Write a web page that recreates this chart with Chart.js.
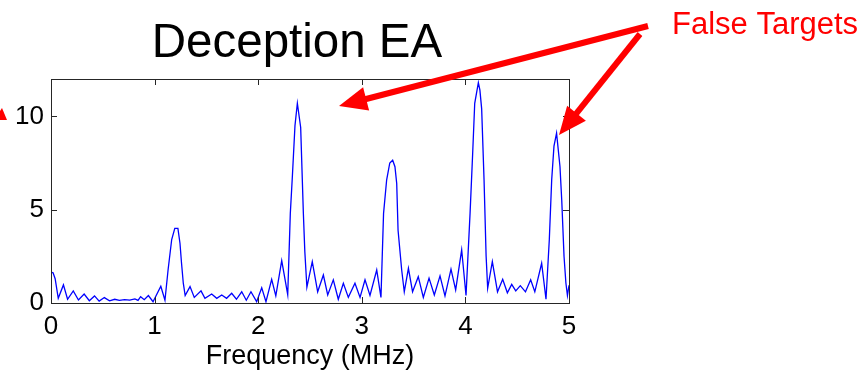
<!DOCTYPE html>
<html>
<head>
<meta charset="utf-8">
<script src="https://cdn.jsdelivr.net/npm/chart.js@4.4.1/dist/chart.umd.min.js"></script>
<style>
  html, body { margin: 0; padding: 0; background: #ffffff; }
  #wrap { width: 867px; height: 376px; position: relative; }
</style>
</head>
<body>
<div id="wrap"><canvas id="c" width="867" height="376"></canvas></div>
<script>
// ---- data ----
const titleText = "Deception EA";
const xAxisLabel = "Frequency (MHz)";
const annotationText = "False Targets";
const xTickValues = [0, 1, 2, 3, 4, 5];
const yTickValues = [0, 5, 10];

const freqMHz = [
  0.00, 0.02, 0.04, 0.07, 0.12, 0.16, 0.215, 0.265, 0.32, 0.37,
  0.42, 0.465, 0.515, 0.565, 0.615, 0.66, 0.71, 0.76, 0.81, 0.84,
  0.865, 0.90, 0.94, 0.985, 1.06, 1.10, 1.13, 1.165, 1.195, 1.225,
  1.245, 1.26, 1.277, 1.295, 1.342, 1.383, 1.448, 1.486, 1.551, 1.60,
  1.648, 1.695, 1.744, 1.79, 1.841, 1.885, 1.93, 1.985, 2.034, 2.075,
  2.13, 2.17, 2.227, 2.285, 2.31, 2.33, 2.355, 2.378, 2.41, 2.436,
  2.45, 2.47, 2.522, 2.574, 2.629, 2.671, 2.725, 2.773, 2.822, 2.87,
  2.934, 2.983, 3.031, 3.079, 3.144, 3.185, 3.21, 3.24, 3.27, 3.298,
  3.32, 3.337, 3.35, 3.385, 3.41, 3.45, 3.49, 3.545, 3.594, 3.649,
  3.70, 3.755, 3.803, 3.861, 3.906, 3.964, 4.006, 4.045, 4.07, 4.09,
  4.125, 4.14, 4.157, 4.18, 4.20, 4.215, 4.26, 4.31, 4.36, 4.405,
  4.447, 4.486, 4.53, 4.58, 4.63, 4.67, 4.736, 4.778, 4.81, 4.833,
  4.855, 4.88, 4.913, 4.93, 4.952, 4.97, 4.985, 5.00
];
const magnitude = [
  1.65, 1.62, 1.30, 0.25, 0.97, 0.20, 0.65, 0.16, 0.48, 0.12,
  0.38, 0.10, 0.29, 0.12, 0.20, 0.14, 0.18, 0.15, 0.22, 0.14,
  0.34, 0.18, 0.40, 0.07, 0.90, 0.15, 1.77, 3.40, 4.00, 4.00,
  3.20, 2.13, 1.06, 0.40, 0.88, 0.30, 0.65, 0.25, 0.48, 0.25,
  0.43, 0.25, 0.52, 0.20, 0.60, 0.15, 0.60, 0.07, 0.82, 0.07,
  1.27, 0.38, 2.27, 0.45, 4.80, 6.80, 9.50, 10.70, 9.40, 4.80,
  2.76, 0.85, 2.22, 0.60, 1.50, 0.43, 1.24, 0.20, 1.06, 0.30,
  1.06, 0.30, 1.24, 0.40, 1.77, 0.30, 4.80, 6.60, 7.50, 7.65,
  7.30, 6.40, 3.90, 1.77, 0.60, 1.86, 0.60, 1.41, 0.30, 1.33,
  0.43, 1.45, 0.38, 1.81, 0.70, 2.85, 0.40, 4.80, 8.00, 10.70,
  11.80, 11.40, 10.40, 6.60, 2.50, 0.79, 2.22, 0.60, 1.27, 0.55,
  1.00, 0.65, 0.93, 0.60, 1.24, 0.60, 2.13, 0.20, 3.40, 6.60,
  8.40, 9.10, 7.30, 5.50, 2.50, 1.07, 0.40, 0.95
];

const FONT = "'Liberation Sans', Arial, Helvetica, sans-serif";

const matlabPlugin = {
  id: 'matlabLook',
  afterDatasetsDraw(chart) {
    const ctx = chart.ctx;
    const a = chart.chartArea;
    const xs = chart.scales.x, ys = chart.scales.y;
    ctx.save();
    ctx.strokeStyle = '#262626';
    ctx.lineWidth = 1;
    ctx.strokeRect(Math.round(a.left) + 0.5, Math.round(a.top) + 0.5,
                   Math.round(a.right - a.left), Math.round(a.bottom - a.top));
    const tl = 6;
    ctx.beginPath();
    xs.ticks.forEach(t => {
      const px = Math.round(xs.getPixelForValue(t.value)) + 0.5;
      ctx.moveTo(px, a.bottom); ctx.lineTo(px, a.bottom - tl);
      ctx.moveTo(px, a.top); ctx.lineTo(px, a.top + tl);
    });
    ys.ticks.forEach(t => {
      const py = Math.round(ys.getPixelForValue(t.value)) + 0.5;
      ctx.moveTo(a.left, py); ctx.lineTo(a.left + tl, py);
      ctx.moveTo(a.right, py); ctx.lineTo(a.right - tl, py);
    });
    ctx.stroke();
    ctx.restore();
  },
  afterDraw(chart) {
    const ctx = chart.ctx;
    ctx.save();
    ctx.fillStyle = '#000000';
    ctx.font = '47.5px ' + FONT;
    ctx.textAlign = 'center';
    ctx.textBaseline = 'alphabetic';
    ctx.fillText(titleText, 297, 57);
    ctx.fillStyle = '#ff0000';
    ctx.font = '31px ' + FONT;
    ctx.textAlign = 'left';
    ctx.fillText(annotationText, 672, 34);
    function arrow(x1, y1, x2, y2) {
      const ang = Math.atan2(y2 - y1, x2 - x1);
      const headLen = 28, headW = 12;
      const bx = x2 - headLen * Math.cos(ang), by = y2 - headLen * Math.sin(ang);
      ctx.strokeStyle = '#ff0000';
      ctx.lineWidth = 6;
      ctx.beginPath();
      ctx.moveTo(x1, y1);
      ctx.lineTo(bx + 4 * Math.cos(ang), by + 4 * Math.sin(ang));
      ctx.stroke();
      ctx.fillStyle = '#ff0000';
      ctx.beginPath();
      ctx.moveTo(x2, y2);
      ctx.lineTo(bx - headW * Math.sin(ang), by + headW * Math.cos(ang));
      ctx.lineTo(bx + headW * Math.sin(ang), by - headW * Math.cos(ang));
      ctx.closePath();
      ctx.fill();
    }
    arrow(648, 26, 339, 106);
    arrow(640, 34, 559, 135);
    ctx.fillStyle = '#ff0000';
    ctx.beginPath();
    ctx.moveTo(0, 111);
    ctx.lineTo(2, 108);
    ctx.lineTo(7, 120);
    ctx.lineTo(0, 120);
    ctx.closePath();
    ctx.fill();
    ctx.restore();
  }
};

new Chart(document.getElementById('c'), {
  type: 'line',
  data: {
    datasets: [{
      data: freqMHz.map((f, i) => ({ x: f, y: magnitude[i] })),
      borderColor: '#0000ff',
      borderWidth: 1.3,
      pointRadius: 0,
      tension: 0,
      fill: false
    }]
  },
  options: {
    responsive: false,
    animation: false,
    devicePixelRatio: 1,
    layout: { padding: { left: 0, right: 298, top: 79, bottom: 0 } },
    plugins: { legend: { display: false }, tooltip: { enabled: false }, title: { display: false } },
    scales: {
      x: {
        type: 'linear', min: 0, max: 5,
        afterBuildTicks: s => { s.ticks = xTickValues.map(v => ({ value: v })); },
        afterFit: s => { s.height = 73; },
        grid: { display: false, drawTicks: false },
        border: { display: false },
        ticks: { color: '#000', font: { family: FONT, size: 26 }, padding: 8, maxRotation: 0 },
        title: { display: true, text: xAxisLabel, color: '#000',
                 font: { family: FONT, size: 27 }, padding: { top: 0, bottom: 3 } }
      },
      y: {
        type: 'linear', min: 0, max: 12,
        afterBuildTicks: s => { s.ticks = yTickValues.map(v => ({ value: v })); },
        afterFit: s => { s.width = 51; },
        grid: { display: false, drawTicks: false },
        border: { display: false },
        ticks: { color: '#000', font: { family: FONT, size: 26 }, padding: 7 }
      }
    }
  },
  plugins: [matlabPlugin]
});
</script>
</body>
</html>
